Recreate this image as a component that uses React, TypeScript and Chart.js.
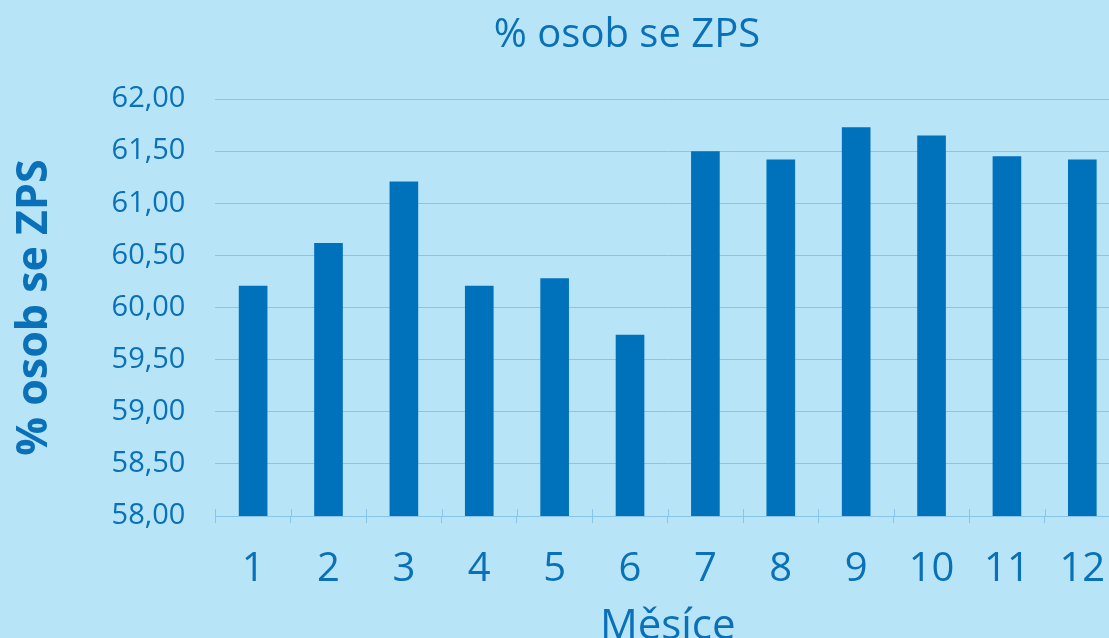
import React, { useEffect, useRef } from "react";
import { Chart, registerables } from "chart.js";

Chart.register(...registerables);

const months = ["1", "2", "3", "4", "5", "6", "7", "8", "9", "10", "11", "12"];
const shareZps = [60.21, 60.62, 61.21, 60.21, 60.28, 59.74, 61.5, 61.42, 61.73, 61.65, 61.45, 61.42];
const chartTitle = "% osob se ZPS";
const yTitle = "% osob se ZPS";
const xTitle = "Měsíce";

const BG = "#b8e4f8";
const BAR = "#0071bb";
const TEXT = "#0a71b9";
const GRID = "#88c5ec";

const crossTicks = {
  id: "crossTicks",
  afterDatasetsDraw(chart: any) {
    const x = chart.scales.x;
    const y = chart.scales.y;
    const ctx = chart.ctx;
    const n = chart.data.labels.length;
    const w = (x.right - x.left) / n;
    ctx.save();
    ctx.strokeStyle = GRID;
    ctx.lineWidth = 1;
    for (let i = 0; i <= n; i++) {
      const px = Math.round(x.left + i * w) + 0.5;
      ctx.beginPath();
      ctx.moveTo(px, y.bottom - 7);
      ctx.lineTo(px, y.bottom);
      ctx.stroke();
    }
    ctx.restore();
  },
};

export default function App() {
  const ref = useRef<HTMLCanvasElement>(null);
  useEffect(() => {
    if (!ref.current) return;
    const chart = new Chart(ref.current, {
      type: "bar",
      data: {
        labels: months,
        datasets: [
          {
            data: shareZps,
            backgroundColor: BAR,
            borderWidth: 0,
            barPercentage: 0.38,
            categoryPercentage: 1,
          },
        ],
      },
      plugins: [crossTicks],
      options: {
        animation: false,
        responsive: false,
        maintainAspectRatio: false,
        layout: { padding: { left: 9, right: 134, top: 99, bottom: 0 } },
        plugins: {
          legend: { display: false },
          tooltip: { enabled: false },
          title: { display: false },
        },
        scales: {
          x: {
            offset: true,
            border: { display: true, color: GRID, width: 1 },
            grid: {
              display: true,
              offset: true,
              drawOnChartArea: false,
              drawTicks: true,
              tickLength: 7,
              color: GRID,
            },
            ticks: {
              color: TEXT,
              font: { family: "'Open Sans'", size: 40, lineHeight: 0.45 },
              padding: 38,
              maxRotation: 0,
              autoSkip: false,
            },
            title: {
              display: true,
              text: xTitle,
              color: TEXT,
              font: { family: "'Open Sans'", size: 42, lineHeight: 0.45 },
              padding: { top: 0, bottom: 10 },
            },
          },
          y: {
            min: 58,
            max: 62,
            border: { display: false },
            grid: { color: GRID, drawTicks: false, lineWidth: 1 },
            ticks: {
              stepSize: 0.5,
              color: TEXT,
              padding: 30,
              font: { family: "'Open Sans'", size: 29 },
              callback: (v: any) => Number(v).toFixed(2).replace(".", ","),
            },
            title: {
              display: true,
              text: yTitle,
              color: TEXT,
              font: { family: "'Open Sans'", size: 43, weight: "bold" },
              padding: { top: 0, bottom: 21 },
            },
          },
        },
      },
    });
    return () => chart.destroy();
  }, []);
  return (
    <div
      style={{
        position: "fixed",
        left: 0,
        top: 0,
        width: 1109,
        height: 638,
        overflow: "hidden",
        background: BG,
      }}
    >
      <canvas ref={ref} width={1254} height={646} style={{ display: "block" }} />
      <div
        style={{
          position: "absolute",
          left: 0,
          top: 4,
          width: 1254,
          textAlign: "center",
          fontFamily: "'Open Sans'",
          fontSize: 40,
          lineHeight: "normal",
          color: TEXT,
          whiteSpace: "nowrap",
        }}
      >
        {chartTitle}
      </div>
    </div>
  );
}
